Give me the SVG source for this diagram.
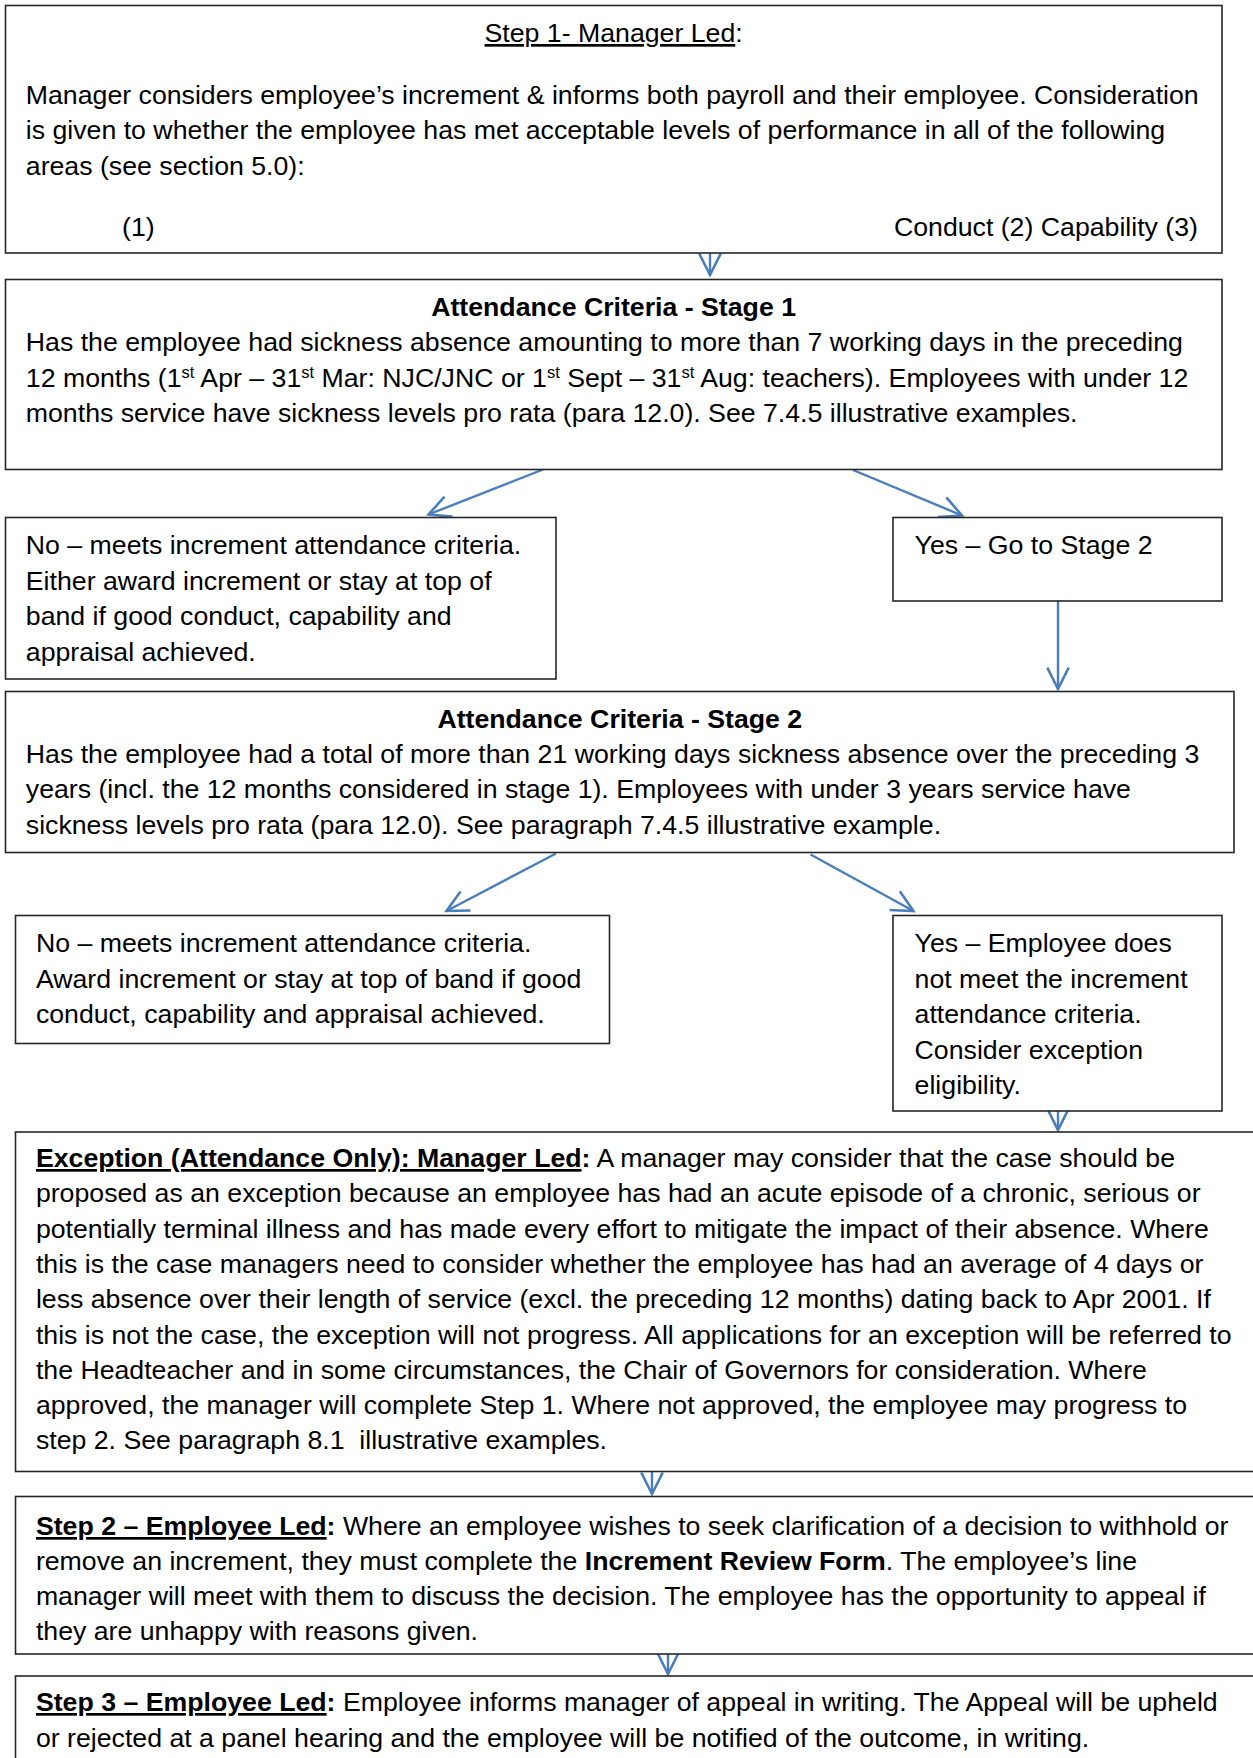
<svg xmlns="http://www.w3.org/2000/svg" width="1253" height="1758" viewBox="0 0 1253 1758">
<style>
.box{fill:#fff;stroke:#262626;stroke-width:1.6}
.t{font-family:"Liberation Sans",Arial,sans-serif;font-size:26.7px;fill:#000}
.b{font-weight:bold}
.u{text-decoration:underline}
.c{text-anchor:middle}
.con{stroke:#4a7ebb;stroke-width:2.4;fill:none}
</style>
<defs>
<marker id="ah" markerUnits="userSpaceOnUse" orient="auto" refX="0" refY="0" markerWidth="30" markerHeight="30" viewBox="-24 -13 28 26" overflow="visible">
<path d="M-20,-10 L0,0 L-20,10" fill="none" stroke="#4a7ebb" stroke-width="2.4"/>
</marker>
</defs>
<rect width="1253" height="1758" fill="#fff"/>
<g id="connectors">
<line class="con" x1="710" y1="253" x2="710" y2="275" marker-end="url(#ah)"/>
<line class="con" x1="543" y1="469.5" x2="428.5" y2="514.5" marker-end="url(#ah)"/>
<line class="con" x1="853" y1="470" x2="962" y2="515.5" marker-end="url(#ah)"/>
<line class="con" x1="1058" y1="601" x2="1058" y2="689" marker-end="url(#ah)"/>
<line class="con" x1="556" y1="853.5" x2="446.5" y2="911" marker-end="url(#ah)"/>
<line class="con" x1="810.5" y1="854.5" x2="913.5" y2="911" marker-end="url(#ah)"/>
<line class="con" x1="1058" y1="1111" x2="1058" y2="1130" marker-end="url(#ah)"/>
<line class="con" x1="652" y1="1471.5" x2="652" y2="1494" marker-end="url(#ah)"/>
<line class="con" x1="668" y1="1654" x2="668" y2="1674" marker-end="url(#ah)"/>
</g>
<g id="step1">
<rect class="box" x="5.5" y="5.5" width="1216.5" height="247.5"/>
<text class="t c" x="613.6" y="42"><tspan class="u">Step 1- Manager Led</tspan>:</text>
<text class="t" x="25.8" y="103.5">Manager considers employee’s increment &amp; informs both payroll and their employee. Consideration</text>
<text class="t" x="25.8" y="139">is given to whether the employee has met acceptable levels of performance in all of the following</text>
<text class="t" x="25.8" y="174.5">areas (see section 5.0):</text>
<text class="t" x="122" y="235.8">(1)</text>
<text class="t" x="1198" y="235.8" text-anchor="end">Conduct (2) Capability (3)</text>
</g>
<g id="stage1">
<rect class="box" x="5.5" y="279.5" width="1216.5" height="190"/>
<text class="t b c" x="613.6" y="315.5">Attendance Criteria - Stage 1</text>
<text class="t" x="25.8" y="351">Has the employee had sickness absence amounting to more than 7 working days in the preceding</text>
<text class="t" x="25.8" y="386.5">12 months (1<tspan dy="-9" font-size="16.5">st</tspan><tspan dy="9"> Apr – 31</tspan><tspan dy="-9" font-size="16.5">st</tspan><tspan dy="9"> Mar: NJC/JNC or 1</tspan><tspan dy="-9" font-size="16.5">st</tspan><tspan dy="9"> Sept – 31</tspan><tspan dy="-9" font-size="16.5">st</tspan><tspan dy="9"> Aug: teachers). Employees with under 12</tspan></text>
<text class="t" x="25.8" y="422">months service have sickness levels pro rata (para 12.0). See 7.4.5 illustrative examples.</text>
</g>
<g id="no1">
<rect class="box" x="5.5" y="517.5" width="550.5" height="161.5"/>
<text class="t" x="25.8" y="554">No – meets increment attendance criteria.</text>
<text class="t" x="25.8" y="589.5">Either award increment or stay at top of</text>
<text class="t" x="25.8" y="625">band if good conduct, capability and</text>
<text class="t" x="25.8" y="660.5">appraisal achieved.</text>
</g>
<g id="yes1">
<rect class="box" x="893" y="517.5" width="329" height="83.5"/>
<text class="t" x="914.6" y="554">Yes – Go to Stage 2</text>
</g>
<g id="stage2">
<rect class="box" x="5.5" y="691.5" width="1228.5" height="161"/>
<text class="t b c" x="619.8" y="727.8">Attendance Criteria - Stage 2</text>
<text class="t" x="25.8" y="762.5">Has the employee had a total of more than 21 working days sickness absence over the preceding 3</text>
<text class="t" x="25.8" y="798">years (incl. the 12 months considered in stage 1). Employees with under 3 years service have</text>
<text class="t" x="25.8" y="833.5">sickness levels pro rata (para 12.0). See paragraph 7.4.5 illustrative example.</text>
</g>
<g id="no2">
<rect class="box" x="15.5" y="915.5" width="594" height="128"/>
<text class="t" x="35.9" y="952">No – meets increment attendance criteria.</text>
<text class="t" x="35.9" y="987.5">Award increment or stay at top of band if good</text>
<text class="t" x="35.9" y="1023">conduct, capability and appraisal achieved.</text>
</g>
<g id="yes2">
<rect class="box" x="893" y="915.5" width="329" height="195.5"/>
<text class="t" x="914.6" y="952">Yes – Employee does</text>
<text class="t" x="914.6" y="987.5">not meet the increment</text>
<text class="t" x="914.6" y="1023">attendance criteria.</text>
<text class="t" x="914.6" y="1058.5">Consider exception</text>
<text class="t" x="914.6" y="1094">eligibility.</text>
</g>
<g id="exception">
<rect class="box" x="15.5" y="1132" width="1250" height="339.5"/>
<text class="t" x="35.9" y="1167"><tspan class="b u">Exception (Attendance Only): Manager Led</tspan><tspan class="b">:</tspan> A manager may consider that the case should be</text>
<text class="t" x="35.9" y="1202.3">proposed as an exception because an employee has had an acute episode of a chronic, serious or</text>
<text class="t" x="35.9" y="1237.6">potentially terminal illness and has made every effort to mitigate the impact of their absence. Where</text>
<text class="t" x="35.9" y="1272.9">this is the case managers need to consider whether the employee has had an average of 4 days or</text>
<text class="t" x="35.9" y="1308.2">less absence over their length of service (excl. the preceding 12 months) dating back to Apr 2001. If</text>
<text class="t" x="35.9" y="1343.5">this is not the case, the exception will not progress. All applications for an exception will be referred to</text>
<text class="t" x="35.9" y="1378.8">the Headteacher and in some circumstances, the Chair of Governors for consideration. Where</text>
<text class="t" x="35.9" y="1414.1">approved, the manager will complete Step 1. Where not approved, the employee may progress to</text>
<text class="t" x="35.9" y="1449.4">step 2. See paragraph 8.1 &#160;illustrative examples.</text>
</g>
<g id="step2">
<rect class="box" x="15.5" y="1496.5" width="1250" height="157.5"/>
<text class="t" x="35.9" y="1535"><tspan class="b u">Step 2 – Employee Led</tspan><tspan class="b">:</tspan> Where an employee wishes to seek clarification of a decision to withhold or</text>
<text class="t" x="35.9" y="1570">remove an increment, they must complete the <tspan class="b">Increment Review Form</tspan>. The employee’s line</text>
<text class="t" x="35.9" y="1605">manager will meet with them to discuss the decision. The employee has the opportunity to appeal if</text>
<text class="t" x="35.9" y="1640">they are unhappy with reasons given.</text>
</g>
<g id="step3">
<rect class="box" x="15.5" y="1676" width="1250" height="120"/>
<text class="t" x="35.9" y="1711"><tspan class="b u">Step 3 – Employee Led</tspan><tspan class="b">:</tspan> Employee informs manager of appeal in writing. The Appeal will be upheld</text>
<text class="t" x="35.9" y="1746.5">or rejected at a panel hearing and the employee will be notified of the outcome, in writing.</text>
</g>
</svg>
